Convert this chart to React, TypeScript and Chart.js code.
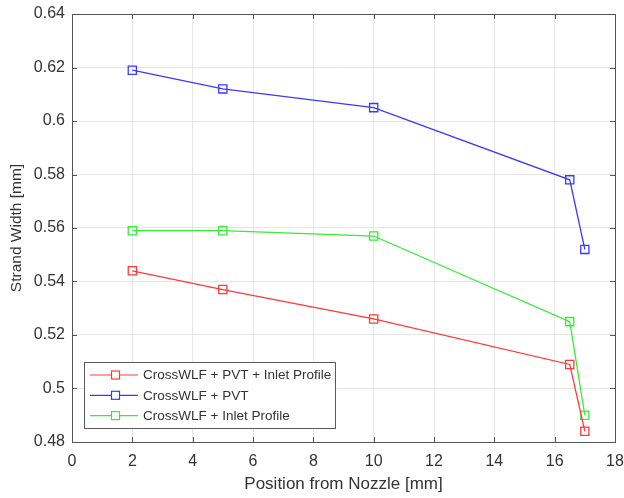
import React, { useEffect, useRef } from "react";
import { Chart, registerables } from "chart.js";

Chart.register(...registerables);

const positions = [2, 5, 10, 16.5, 17];
const seriesNames = [
  "CrossWLF + PVT + Inlet Profile",
  "CrossWLF + PVT",
  "CrossWLF + Inlet Profile",
];
const redValues = [0.544, 0.537, 0.526, 0.509, 0.484];
const blueValues = [0.619, 0.612, 0.605, 0.578, 0.552];
const greenValues = [0.559, 0.559, 0.557, 0.525, 0.49];
const seriesColors = ["#ff3a3a", "#3a3aff", "#36ec36"];
const xTicks = [0, 2, 4, 6, 8, 10, 12, 14, 16, 18];
const yTicks = [0.48, 0.5, 0.52, 0.54, 0.56, 0.58, 0.6, 0.62, 0.64];
const xTitle = "Position from Nozzle [mm]";
const yTitle = "Strand Width [mm]";

const FONT = "'Liberation Sans', Arial, Helvetica, sans-serif";
const AXIS_COLOR = "#555555";
const TEXT_COLOR = "#333333";

const boxPlugin = {
  id: "matlabBox",
  beforeDatasetsDraw(chart: any) {
    const { ctx, chartArea: a, scales } = chart;
    ctx.save();
    ctx.strokeStyle = AXIS_COLOR;
    ctx.lineWidth = 1;
    ctx.beginPath();
    const tl = 5;
    for (const v of xTicks) {
      const x = Math.round(scales.x.getPixelForValue(v)) + 0.5;
      ctx.moveTo(x, a.bottom);
      ctx.lineTo(x, a.bottom - tl);
      ctx.moveTo(x, a.top);
      ctx.lineTo(x, a.top + tl);
    }
    for (const v of yTicks) {
      const y = Math.round(scales.y.getPixelForValue(v)) + 0.5;
      ctx.moveTo(a.left, y);
      ctx.lineTo(a.left + tl, y);
      ctx.moveTo(a.right, y);
      ctx.lineTo(a.right - tl, y);
    }
    ctx.stroke();
    ctx.strokeRect(
      Math.round(a.left) + 0.5,
      Math.round(a.top) + 0.5,
      Math.round(a.right - a.left),
      Math.round(a.bottom - a.top)
    );
    ctx.restore();
  },
  afterDraw(chart: any) {
    const { ctx, chartArea: a } = chart;
    ctx.save();
    ctx.font = `13.5px ${FONT}`;
    const boxLeft = a.left + 12;
    const boxBottom = a.bottom - 14;
    const rowH = 20.3;
    const boxH = 66;
    const boxTop = boxBottom - boxH;
    const textX = boxLeft + 59;
    let maxW = 0;
    for (const n of seriesNames) maxW = Math.max(maxW, ctx.measureText(n).width);
    const boxW = textX - boxLeft + maxW + 4;
    ctx.fillStyle = "#ffffff";
    ctx.fillRect(boxLeft, boxTop, boxW, boxH);
    ctx.strokeStyle = "#5a5a5a";
    ctx.lineWidth = 1;
    ctx.strokeRect(Math.round(boxLeft) + 0.5, Math.round(boxTop) + 0.5, Math.round(boxW), Math.round(boxH));
    seriesNames.forEach((n, i) => {
      const y = boxTop + 13 + i * rowH;
      ctx.strokeStyle = seriesColors[i];
      ctx.lineWidth = 1.2;
      ctx.beginPath();
      ctx.moveTo(boxLeft + 6, y);
      ctx.lineTo(boxLeft + 54, y);
      ctx.stroke();
      ctx.fillStyle = "#ffffff";
      ctx.fillRect(boxLeft + 27.5, y - 4, 8, 8);
      ctx.strokeRect(boxLeft + 27.5, y - 4, 8, 8);
      ctx.fillStyle = TEXT_COLOR;
      ctx.textBaseline = "middle";
      ctx.textAlign = "left";
      ctx.fillText(n, textX, y + 0.5);
    });
    ctx.restore();
  },
};

export default function App() {
  const ref = useRef<HTMLCanvasElement | null>(null);
  useEffect(() => {
    if (!ref.current) return;
    const mk = (vals: number[], i: number) => ({
      label: seriesNames[i],
      data: positions.map((x, k) => ({ x, y: vals[k] })),
      borderColor: seriesColors[i],
      backgroundColor: "rgba(0,0,0,0)",
      borderWidth: 1.3,
      pointStyle: "rect",
      pointRadius: 5.8,
      pointBorderWidth: 1.3,
      pointBorderColor: seriesColors[i],
      pointBackgroundColor: "rgba(0,0,0,0)",
      tension: 0,
    });
    const chart = new Chart(ref.current, {
      type: "line",
      data: {
        datasets: [mk(redValues, 0), mk(blueValues, 1), mk(greenValues, 2)],
      },
      options: {
        animation: false,
        responsive: false,
        maintainAspectRatio: false,
        layout: { padding: { left: 0, right: 9, top: 14, bottom: 0 } },
        plugins: { legend: { display: false }, tooltip: { enabled: false } },
        scales: {
          x: {
            type: "linear",
            min: 0,
            max: 18,
            afterFit: (s: any) => {
              s.height = 56;
              s.paddingLeft = 0;
              s.paddingRight = 0;
            },
            afterBuildTicks: (s: any) => {
              s.ticks = xTicks.map((v) => ({ value: v }));
            },
            grid: { color: "#e6e6e6", lineWidth: 1, drawTicks: false },
            border: { display: false },
            ticks: {
              padding: 10,
              color: TEXT_COLOR,
              font: { family: FONT, size: 16 },
              maxRotation: 0,
              callback: (v: any) => String(v),
            },
            title: {
              display: true,
              text: xTitle,
              color: TEXT_COLOR,
              font: { family: FONT, size: 17 },
              padding: { top: 0, bottom: 3 },
            },
          },
          y: {
            type: "linear",
            min: 0.48,
            max: 0.64,
            afterFit: (s: any) => {
              s.width = 72;
              s.paddingTop = 0;
              s.paddingBottom = 0;
            },
            afterBuildTicks: (s: any) => {
              s.ticks = yTicks.map((v) => ({ value: v }));
            },
            grid: { color: "#e6e6e6", lineWidth: 1, drawTicks: false },
            border: { display: false },
            ticks: {
              padding: 7,
              color: TEXT_COLOR,
              font: { family: FONT, size: 16 },
              callback: (v: any) => String(Number(Number(v).toFixed(2))),
            },
            title: {
              display: true,
              text: yTitle,
              color: TEXT_COLOR,
              font: { family: FONT, size: 15.5 },
              padding: { top: 7, bottom: 0 },
            },
          },
        },
      },
      plugins: [boxPlugin],
    } as any);
    return () => chart.destroy();
  }, []);
  return (
    <div style={{ position: "absolute", left: 0, top: 0, width: 624, height: 498, background: "#fff" }}>
      <canvas ref={ref} width={624} height={498} />
    </div>
  );
}
